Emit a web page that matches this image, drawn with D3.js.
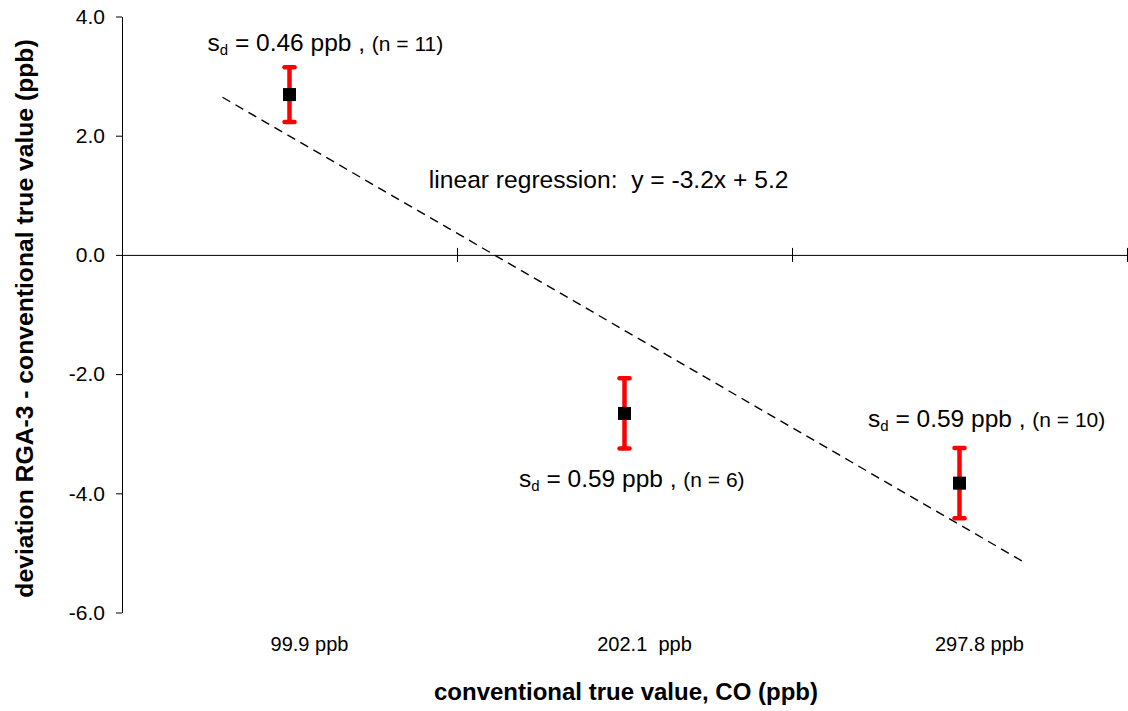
<!DOCTYPE html>
<html>
<head>
<meta charset="utf-8">
<script src="https://cdn.jsdelivr.net/npm/d3@7"></script>
<style>
  body { margin: 0; background: #fff; }
  svg { display: block; }
  text { font-family: "Liberation Sans", Arial, Helvetica, sans-serif; fill: #000; }
</style>
</head>
<body>
<svg id="chart" width="1128" height="711"></svg>
<script>
// Reference gas levels (category labels on the x axis)
const categories = ["99.9 ppb", "202.1  ppb", "297.8 ppb"];
// Mean deviation RGA-3 minus conventional true value, ppb
const deviations = [2.69, -2.66, -3.83];
// Standard deviation of the differences, ppb
const stdDevs = [0.46, 0.59, 0.59];
// Number of measurements
const counts = [11, 6, 10];
// Value-axis ticks
const yTicks = [-6, -4, -2, 0, 2, 4];
const regressionText = "linear regression:  y = -3.2x + 5.2";
const xTitle = "conventional true value, CO (ppb)";
const yTitle = "deviation RGA-3 - conventional true value (ppb)";

const svg = d3.select("#chart");
const font = '"Liberation Sans", Arial, Helvetica, sans-serif';

// category index 1..3 on a linear scale, bands of width 1
const x = d3.scaleLinear().domain([0.5, 3.5]).range([122, 1127]);
const y = d3.scaleLinear().domain([-6, 4]).range([612.5, 16.5]);

// value axis
const yAxis = svg.append("g")
  .attr("transform", `translate(${x(0.5)},0)`)
  .call(d3.axisLeft(y).tickValues(yTicks).tickSize(6).tickSizeOuter(0)
    .tickPadding(11).tickFormat(d => d.toFixed(1)));
yAxis.select(".domain").attr("stroke", "#000").attr("stroke-width", 1);
yAxis.selectAll(".tick line").attr("stroke", "#000");
yAxis.selectAll(".tick text").attr("font-family", font).attr("font-size", 21).attr("fill", "#000");

// category axis drawn along zero, ticks crossing it at band edges
const xAxis = svg.append("g")
  .attr("transform", `translate(0,${y(0)})`)
  .call(d3.axisBottom(x).tickValues([1.5, 2.5, 3.5]).tickSize(7).tickSizeOuter(0).tickFormat(""));
xAxis.select(".domain").attr("stroke", "#000").attr("stroke-width", 1);
xAxis.selectAll(".tick line").attr("y1", -7).attr("stroke", "#000");

// category labels sit below the plot area
svg.append("g").selectAll("text")
  .data(categories)
  .join("text")
  .attr("x", (d, i) => x(i + 1) + 20)
  .attr("y", 651)
  .attr("text-anchor", "middle")
  .attr("font-size", 20)
  .style("white-space", "pre")
  .text(d => d);

// least-squares trend line through the three means
const idx = deviations.map((d, i) => i + 1);
const mx = d3.mean(idx), my = d3.mean(deviations);
const slope = d3.sum(idx, (v, i) => (v - mx) * (deviations[i] - my)) / d3.sum(idx, v => (v - mx) ** 2);
const intercept = my - slope * mx;
const trendX = [0.8, 3.2];
svg.append("path")
  .attr("d", d3.line().x(d => x(d)).y(d => y(slope * d + intercept))(trendX))
  .attr("fill", "none")
  .attr("stroke", "#000")
  .attr("stroke-width", 1.4)
  .attr("stroke-dasharray", "9,6");

svg.append("text")
  .attr("x", x(1.416))
  .attr("y", y(1.12))
  .attr("font-size", 24.6)
  .style("white-space", "pre")
  .text(regressionText);

// error bars (± standard deviation)
const bars = svg.append("g").selectAll("g")
  .data(deviations)
  .join("g");
bars.append("line")
  .attr("x1", (d, i) => x(i + 1)).attr("x2", (d, i) => x(i + 1))
  .attr("y1", (d, i) => y(d - stdDevs[i])).attr("y2", (d, i) => y(d + stdDevs[i]))
  .attr("stroke", "#ff0000").attr("stroke-width", 4.5);
[-1, 1].forEach(s => {
  bars.append("line")
    .attr("x1", (d, i) => x(i + 1) - 5).attr("x2", (d, i) => x(i + 1) + 5)
    .attr("y1", (d, i) => y(d + s * stdDevs[i])).attr("y2", (d, i) => y(d + s * stdDevs[i]))
    .attr("stroke", "#ff0000").attr("stroke-width", 4.5).attr("stroke-linecap", "round");
});

// mean markers
svg.append("g").selectAll("rect")
  .data(deviations)
  .join("rect")
  .attr("x", (d, i) => x(i + 1) - 6.5)
  .attr("y", d => y(d) - 6.5)
  .attr("width", 13).attr("height", 13)
  .attr("fill", "#000");

// s_d annotations: offset from each marker (first and last above, middle below)
const labelOffsets = [[-82, -44], [-105.5, 74], [-91.5, -56]];
const ann = svg.append("g").selectAll("text")
  .data(deviations)
  .join("text")
  .attr("x", (d, i) => x(i + 1) + labelOffsets[i][0])
  .attr("y", (d, i) => y(d) + labelOffsets[i][1])
  .style("white-space", "pre");
ann.append("tspan").attr("font-size", 24.5).text("s");
ann.append("tspan").attr("font-size", 15).attr("dy", 4).text("d");
ann.append("tspan").attr("font-size", 24.5).attr("dy", -4)
  .text((d, i) => ` = ${stdDevs[i].toFixed(2)} ppb , `);
ann.append("tspan").attr("font-size", 21).text((d, i) => `(n = ${counts[i]})`);

// axis titles
svg.append("text")
  .attr("x", 626).attr("y", 700)
  .attr("text-anchor", "middle")
  .attr("font-size", 24).attr("font-weight", "bold")
  .text(xTitle);
svg.append("text")
  .attr("transform", "translate(33,318.5) rotate(-90)")
  .attr("text-anchor", "middle")
  .attr("font-size", 24.7).attr("font-weight", "bold")
  .text(yTitle);
</script>
</body>
</html>
